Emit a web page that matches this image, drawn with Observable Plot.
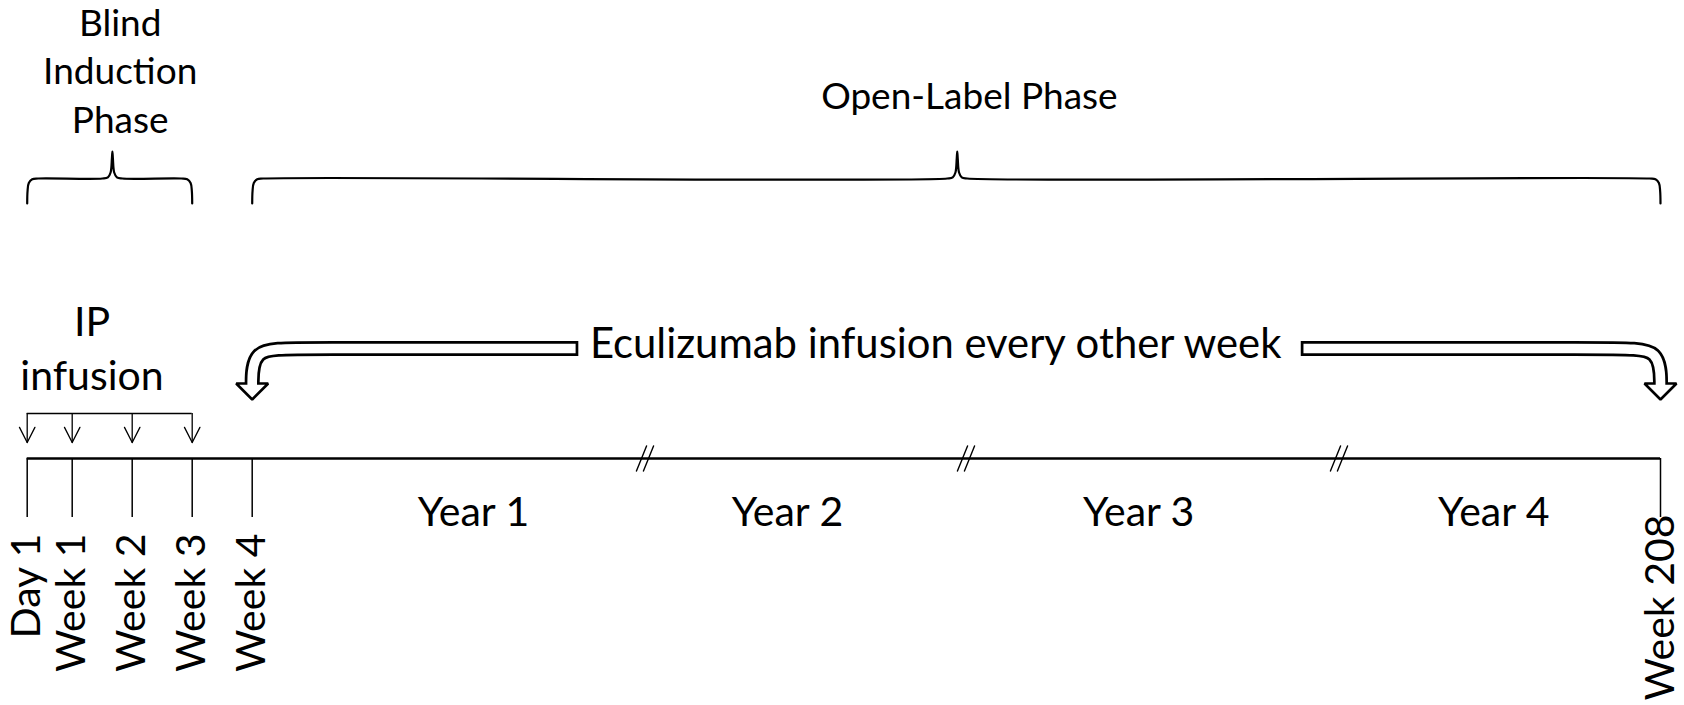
<!DOCTYPE html>
<html>
<head>
<meta charset="utf-8">
<script src="https://cdn.jsdelivr.net/npm/d3@7"></script>
<script src="https://cdn.jsdelivr.net/npm/@observablehq/plot@0.6"></script>
<style>
  body { margin: 0; background: #fff; }
  #chart svg { display: block; }
</style>
</head>
<body>
<div id="chart"></div>
<script>
// ---------------- data ----------------
const tickLabels = ["Day 1", "Week 1", "Week 2", "Week 3", "Week 4", "Week 208"];
const tickWeeks = [0, 1, 2, 3, 4, 208];
const infusionWeeks = [0, 1, 2, 3];               // IP infusions in blind induction
const yearLabels = ["Year 1", "Year 2", "Year 3", "Year 4"];
const yearWeeks = [31, 75, 128, 181];             // where each year label sits
const breakWeeks = [52, 104, 156];                // axis breaks
const phaseLabels = ["Blind\nInduction\nPhase", "Open-Label Phase"];
const phaseStart = [0, 4];
const phaseEnd = [3, 208];
const phaseMid = [1.67, 102.5];                   // brace cusp
const phaseLabelWeeks = [1.8, 104.4];
const infusionLabel = "IP\ninfusion";
const infusionLabelWeek = 1.33;
const maintLabel = "Eculizumab infusion every other week";
const maintLabelWeek = 99;
const maintStart = 4, maintEnd = 208;
const maintBarEnds = [43.8, 150.6];               // where the hollow arrows' bars stop near the text

// ---------------- layout (piecewise timeline scale + vertical levels) ----------------
const scaleWeeks = [0, 1, 4, 52, 104, 156, 208];
const scalePx = [26.7, 71.7, 251.7, 645, 966, 1339, 1660];
const L = {
  phaseBaseline: [132, 108],
  braceTop: 151, braceY: 178, braceBottom: 203,
  ecuBaseline: 357,
  barY: 348, headTop: 383, headTip: 399,
  infusionBaseline: 389,
  bracketY: 413, infusionTip: 442,
  axisY: 458, tickBottom: 517,
  yearBaseline: 525,
  tickLabelTop: 533, lastTickLabelTop: 514
};
const FONT = "Lato, 'Open Sans', sans-serif";
const bigFont = 41, ecuFont = 41.8, phaseFont = 37;

const X = Plot.scale({x: {type: "linear", domain: scaleWeeks, range: scalePx}});
const px = (w) => X.apply(w);
const wk = (p) => X.invert(p);

// brace outline
function bracePoints(i) {
  const a = px(phaseStart[i]), b = px(phaseEnd[i]), c = px(phaseMid[i]);
  const yh = L.braceY, yb = L.braceBottom, yt = L.braceTop;
  const pts = [[a, yb], [a + 0.4, yh + 12], [a + 1.6, yh + 4.5], [a + 5, yh + 0.8], [a + 11, yh],
    [c - 10, yh], [c - 4.5, yh - 1.2], [c - 1.8, yh - 6], [c - 0.5, yt + 7], [c, yt],
    [c + 0.5, yt + 7], [c + 1.8, yh - 6], [c + 4.5, yh - 1.2], [c + 10, yh],
    [b - 11, yh], [b - 5, yh + 0.8], [b - 1.6, yh + 4.5], [b - 0.4, yh + 12], [b, yb]];
  return pts.map(([x, y]) => ({phase: i, x: wk(x), y}));
}
const braces = [...bracePoints(0), ...bracePoints(1)];

// hollow bent arrows (centre line drawn black then white)
function arrowLine(k, inset) {
  const c = px(k === 0 ? maintStart : maintEnd);
  const e = px(maintBarEnds[k]);
  const s = Math.sign(e - c);
  const y = L.barY;
  const endY = inset ? L.headTop + 3 : L.headTop + 6;
  const pts = [[e - s * (inset ? 2.7 : 0), y], [c + s * 40, y], [c, y], [c, y + 40], [c, endY]];
  return pts.map(([x, yy]) => ({arrow: k, x: wk(x), y: yy}));
}
const arrowOuter = [...arrowLine(0, false), ...arrowLine(1, false)];
const arrowInner = [...arrowLine(0, true), ...arrowLine(1, true)];
const heads = [maintStart, maintEnd].flatMap((w, k) => {
  const c = px(w);
  return [[c - 16, L.headTop], [c + 16, L.headTop], [c, L.headTip]].map(([x, y]) => ({arrow: k, x: wk(x), y}));
});

const ticks = tickWeeks.map((w, i) => ({week: w, label: tickLabels[i], last: i === tickWeeks.length - 1}));
const years = yearWeeks.map((w, i) => ({week: w, label: yearLabels[i]}));
const phases = phaseLabels.map((t, i) => ({label: t, week: phaseLabelWeeks[i], base: L.phaseBaseline[i]}));

const stick = {draw(context, l) { context.moveTo(0, 0); context.lineTo(0, -l); }};

const chart = Plot.plot({
  width: 1684,
  height: 705,
  margin: 0,
  style: {background: "#fff", color: "#000"},
  x: {type: "linear", domain: scaleWeeks, range: scalePx, axis: null},
  y: {type: "linear", domain: [0, 705], range: [0, 705], axis: null},
  marks: [
    // phase braces
    Plot.line(braces, {x: "x", y: "y", z: "phase", curve: "catmull-rom", stroke: "#000", strokeWidth: 2.2}),
    // phase labels
    Plot.text(phases, {x: "week", y: "base", text: "label", lineAnchor: "bottom", fontSize: phaseFont,
      lineHeight: 48.5 / phaseFont, fontFamily: FONT, fill: "#000"}),
    // hollow bent arrows
    Plot.line(arrowOuter, {x: "x", y: "y", z: "arrow", curve: "basis", stroke: "#000", strokeWidth: 15, strokeLinecap: "butt", strokeLinejoin: "miter"}),
    Plot.line(heads, {x: "x", y: "y", z: "arrow", curve: "linear-closed", fill: "#fff", stroke: "#000", strokeWidth: 2.6, strokeLinejoin: "miter"}),
    Plot.line(arrowInner, {x: "x", y: "y", z: "arrow", curve: "basis", stroke: "#fff", strokeWidth: 9.6, strokeLinecap: "butt", strokeLinejoin: "miter"}),
    Plot.text([maintLabel], {x: maintLabelWeek, y: L.ecuBaseline, text: (d) => d, lineAnchor: "bottom",
      fontSize: ecuFont, fontFamily: FONT, fill: "#000"}),
    // IP infusion bracket
    Plot.text([infusionLabel], {x: infusionLabelWeek, y: L.infusionBaseline, text: (d) => d, lineAnchor: "bottom",
      fontSize: bigFont, lineHeight: 53.5 / bigFont, fontFamily: FONT, fill: "#000"}),
    Plot.ruleY([L.bracketY], {x1: infusionWeeks[0], x2: infusionWeeks[infusionWeeks.length - 1], stroke: "#000", strokeWidth: 1.3}),
    Plot.ruleX(infusionWeeks, {x: (d) => d, y1: L.bracketY, y2: L.infusionTip, stroke: "#000", strokeWidth: 1.3}),
    Plot.vector(infusionWeeks, {x: (d) => d, y: L.infusionTip, length: 17, rotate: -27, anchor: "start", shape: stick, stroke: "#000", strokeWidth: 1.3}),
    Plot.vector(infusionWeeks, {x: (d) => d, y: L.infusionTip, length: 17, rotate: 27, anchor: "start", shape: stick, stroke: "#000", strokeWidth: 1.3}),
    // timeline
    Plot.ruleY([L.axisY], {x1: tickWeeks[0], x2: tickWeeks[tickWeeks.length - 1], stroke: "#000", strokeWidth: 2.6}),
    Plot.ruleX(ticks, {x: "week", y1: L.axisY, y2: L.tickBottom, stroke: "#000", strokeWidth: 1.5}),
    Plot.vector(breakWeeks, {x: (d) => d, y: L.axisY, length: 27, rotate: 22, anchor: "middle", shape: stick, stroke: "#000", strokeWidth: 1.4, dx: -4}),
    Plot.vector(breakWeeks, {x: (d) => d, y: L.axisY, length: 27, rotate: 22, anchor: "middle", shape: stick, stroke: "#000", strokeWidth: 1.4, dx: 3}),
    Plot.text(ticks, {x: "week", y: (d) => d.last ? L.lastTickLabelTop : L.tickLabelTop, text: "label", rotate: -90,
      textAnchor: "end", lineAnchor: "middle", fontSize: bigFont, fontFamily: FONT, fill: "#000"}),
    Plot.text(years, {x: "week", y: L.yearBaseline, text: "label", lineAnchor: "bottom", fontSize: bigFont, fontFamily: FONT, fill: "#000"})
  ]
});
document.getElementById("chart").appendChild(chart);
</script>
</body>
</html>
